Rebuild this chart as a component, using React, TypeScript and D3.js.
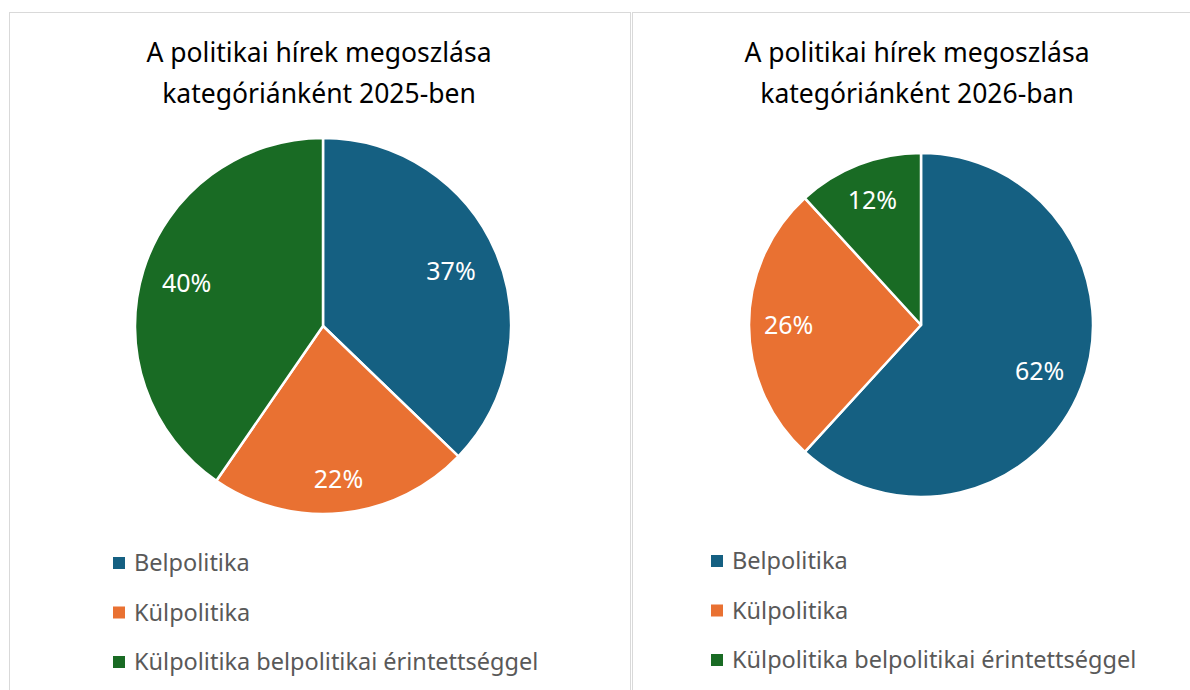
import React from "react";
import * as d3 from "d3";

const categories = ["Belpolitika", "Külpolitika", "Külpolitika belpolitikai érintettséggel"];
const values2025 = [37.2, 22.4, 40.4];
const values2026 = [61.8, 26.4, 11.8];
const titles2025 = ["A politikai hírek megoszlása", "kategóriánként 2025-ben"];
const titles2026 = ["A politikai hírek megoszlása", "kategóriánként 2026-ban"];
const colors = ["#156082", "#E97132", "#196B24"];

const FONT = "'Noto Sans', sans-serif";

type PanelProps = {
  x0: number;
  x1: number;
  cx: number;
  cy: number;
  r: number;
  titleX: number;
  values: number[];
  titles: string[];
  legendX: number;
  legendY: number;
  labelRatio: number[];
};

function Panel(p: PanelProps) {
  const pie = d3.pie<number>().sort(null).value((d) => d);
  const arcs = pie(p.values);
  const arc = d3.arc<d3.PieArcDatum<number>>().innerRadius(0).outerRadius(p.r);
  const fmt = d3.format(".0f");
  const total = d3.sum(p.values);
  return (
    <g>
      <rect x={p.x0 + 0.5} y={12.5} width={p.x1 - p.x0} height={700} fill="#fff" stroke="#d9d9d9" strokeWidth={1} />
      {p.titles.map((t, i) => (
        <text key={i} x={p.titleX} y={62 + i * 41} textAnchor="middle" fontFamily={FONT} fontSize={26.5} fill="#000">
          {t}
        </text>
      ))}
      <g transform={`translate(${p.cx},${p.cy})`}>
        {arcs.map((a, i) => (
          <path key={i} d={arc(a) || ""} fill={colors[i]} stroke="#fff" strokeWidth={2.5} strokeLinejoin="round" />
        ))}
        {arcs.map((a, i) => {
          const mid = (a.startAngle + a.endAngle) / 2;
          const rr = p.r * p.labelRatio[i];
          const x = Math.sin(mid) * rr;
          const y = -Math.cos(mid) * rr;
          return (
            <text key={i} x={x} y={y} dy="0.35em" textAnchor="middle" fontFamily={FONT} fontSize={25} fill="#fff">
              {fmt((a.data / total) * 100)}%
            </text>
          );
        })}
      </g>
      {categories.map((c, i) => (
        <g key={i} transform={`translate(${p.legendX},${p.legendY + i * 49.5})`}>
          <rect x={0} y={-6} width={12} height={12} fill={colors[i]} />
          <text x={21} y={0} dy="0.35em" fontFamily={FONT} fontSize={23.5} fill="#595959">
            {c}
          </text>
        </g>
      ))}
    </g>
  );
}

export default function App() {
  return (
    <svg width={1190} height={690} style={{ position: "absolute", left: 0, top: 0, background: "#fff" }}>
      <rect x={0} y={0} width={1190} height={690} fill="#fff" />
      <Panel x0={9} x1={630} cx={323} cy={326} r={188} titleX={319} values={values2025} titles={titles2025}
        legendX={113} legendY={563} labelRatio={[0.74, 0.82, 0.76]} />
      <Panel x0={632} x1={1200} cx={921} cy={325} r={172} titleX={917} values={values2026} titles={titles2026}
        legendX={711} legendY={561} labelRatio={[0.74, 0.77, 0.78]} />
    </svg>
  );
}
